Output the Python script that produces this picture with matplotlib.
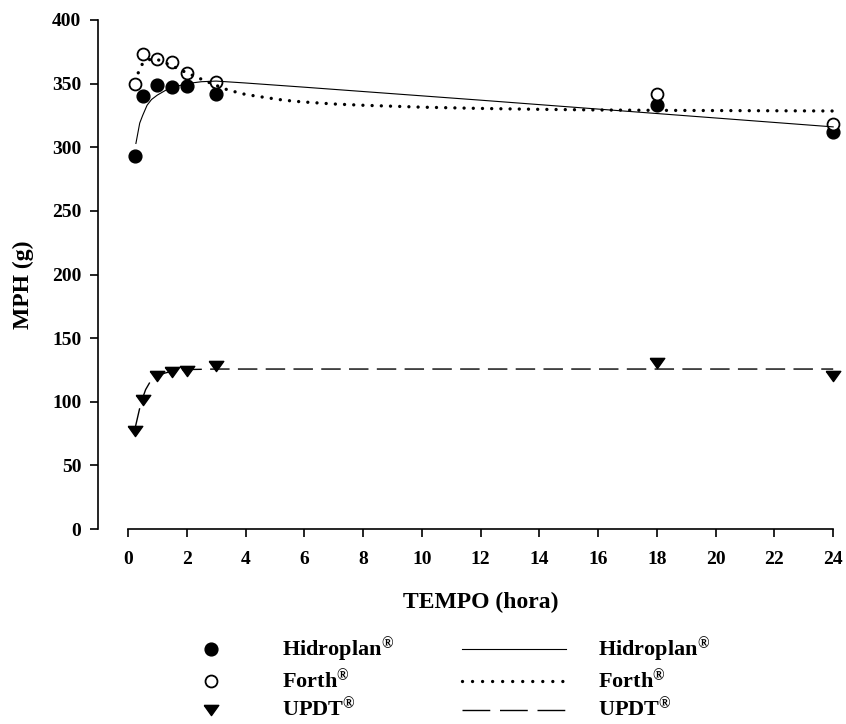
import numpy as np
import matplotlib.pyplot as plt

plt.rcParams['font.family'] = ['Liberation Serif', 'DejaVu Serif']
plt.rcParams['font.weight'] = 'bold'
plt.rcParams['mathtext.fontset'] = 'custom'
plt.rcParams['mathtext.rm'] = 'Liberation Serif:bold'
plt.rcParams['mathtext.it'] = 'Liberation Serif:bold'
plt.rcParams['mathtext.bf'] = 'Liberation Serif:bold'

# measured points (tempo in hours, MPH in g)
tempo = [0.25, 0.5, 1, 1.5, 2, 3, 18, 24]
hidroplan = [293, 340, 349, 347, 348, 342, 333, 312]
forth = [350, 373, 369, 367, 358, 351, 342, 318]
updt = [77, 101, 120.5, 123, 124.5, 128, 130.5, 120]

# fitted curves
fit_h_x = [0.27, 0.4, 0.5, 0.65, 0.8, 1, 1.3, 1.6, 2, 2.5, 3, 4, 6, 8, 10, 12, 14, 16, 18, 20, 22, 24]
fit_h_y = [303, 319, 325, 333, 337.5, 341, 345, 347.5, 350, 351.5, 352, 350.5, 347.2, 343.8, 340.4, 337, 333.5, 330, 326.5, 323, 319.5, 316]

fit_f_x = [0.35, 0.5, 0.75, 1, 1.5, 2, 2.25, 2.55, 2.85, 3.4, 4, 4.7, 5.3, 5.9, 7, 8, 10, 12, 14, 16, 18, 24]
fit_f_y = [358.5, 366, 369, 369, 364, 358.5, 356, 353, 350, 345, 341.5, 339, 337, 335.7, 334, 333, 331.5, 330.5, 329.8, 329.3, 329, 328.5]

fit_u_x = [0.25, 0.3, 0.4, 0.5, 0.6, 0.75, 0.9, 1, 1.25, 1.5, 2, 3, 24]
fit_u_y = [80, 85, 95, 103, 109.5, 115.5, 119, 120.5, 122.5, 124, 125.3, 125.7, 125.7]

tri = [(-1, 0.7), (1, 0.7), (0, -0.7), (-1, 0.7)]

fig = plt.figure(figsize=(8.46, 7.24), dpi=100)
ax = fig.add_axes([98/846, 1-529/724, 744/846, 509/724])

p1, = ax.plot(tempo, hidroplan, 'o', color='k', ms=9.2, clip_on=False, zorder=3)
p2, = ax.plot(tempo, forth, 'o', mfc='white', mec='k', mew=1.3, ms=8.6, clip_on=False, zorder=3)
p3, = ax.plot(tempo, updt, marker=tri, ls='none', color='k', ms=10.5, clip_on=False, zorder=3)

l1, = ax.plot(fit_h_x, fit_h_y, '-', color='k', lw=0.8, zorder=4)
l2, = ax.plot(fit_f_x, fit_f_y, color='k', lw=2.4, ls=(0, (0.01, 2.75)),
              dash_capstyle='round', zorder=4)
l3, = ax.plot(fit_u_x, fit_u_y, color='k', lw=1.0, ls=(0, (14, 6)), zorder=4)

ax.set_xlim(-1.02, 24.3)
ax.set_ylim(0, 400)
ax.set_xticks(np.arange(0, 25, 2))
ax.set_yticks(np.arange(0, 401, 50))
ax.spines['top'].set_visible(False)
ax.spines['right'].set_visible(False)
ax.spines['bottom'].set_bounds(0, 24)
ax.spines['left'].set_linewidth(1.2)
ax.spines['bottom'].set_linewidth(1.2)
ax.tick_params(direction='out', length=6, width=1.2, labelsize=14)
ax.tick_params(axis='x', pad=10)
ax.tick_params(axis='y', pad=6)

ax.set_xlabel('TEMPO (hora)', fontsize=17, fontweight='bold', va='center')
ax.set_ylabel('MPH (g)', fontsize=17, fontweight='bold')
ax.xaxis.set_label_coords(0.515, -0.145)
ax.yaxis.set_label_coords(-0.086, 0.48)

names = ['Hidroplan$^{®}$', 'Forth$^{®}$', 'UPDT$^{®}$']
leg1 = ax.legend([p1, p2, p3], names, loc='center left',
                 bbox_to_anchor=(189/846, 1-679/724), bbox_transform=fig.transFigure,
                 frameon=False, fontsize=16, handlelength=2, handletextpad=2.2,
                 borderpad=0, borderaxespad=0, labelspacing=0.15)
ax.add_artist(leg1)
leg2 = ax.legend([l1, l2, l3], names, loc='center left',
                 bbox_to_anchor=(462/846, 1-679/724), bbox_transform=fig.transFigure,
                 frameon=False, fontsize=16, handlelength=4.7, handletextpad=1.4,
                 borderpad=0, borderaxespad=0, labelspacing=0.15)
leg_lines = leg2.get_lines()
leg_lines[1].set_linestyle((0, (0.01, 3.0)))
leg_lines[2].set_linestyle((0, (20, 7)))

fig.savefig('out.png', dpi=100)
